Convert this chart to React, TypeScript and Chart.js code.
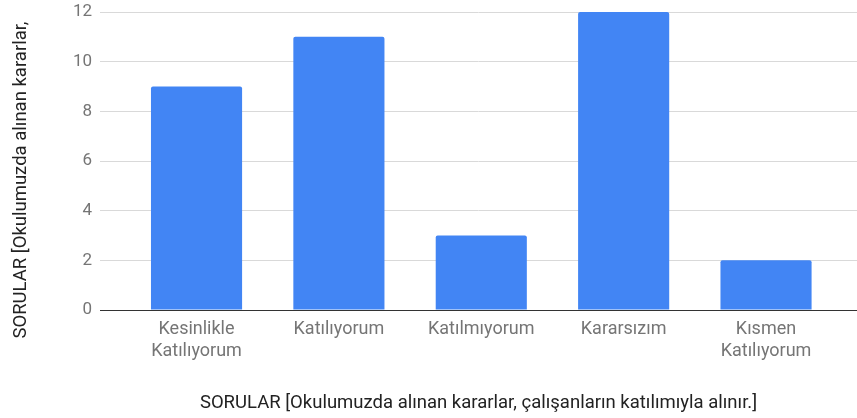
import React, { useEffect, useRef } from "react";
import { Chart, registerables } from "chart.js";

Chart.register(...registerables);

const categories: string[][] = [
  ["Kesinlikle", "Katılıyorum"],
  ["Katılıyorum"],
  ["Katılmıyorum"],
  ["Kararsızım"],
  ["Kısmen", "Katılıyorum"],
];
const values: number[] = [9, 11, 3, 12, 2];
const yTicks: number[] = [0, 2, 4, 6, 8, 10, 12];
const xTitle = "SORULAR [Okulumuzda alınan kararlar, çalışanların katılımıyla alınır.]";
const yTitle = "SORULAR [Okulumuzda alınan kararlar,";

const yTitlePlugin = {
  id: "yTitlePlugin",
  afterDraw(chart: any) {
    const ctx = chart.ctx;
    ctx.save();
    ctx.translate(21, 180);
    ctx.rotate(-Math.PI / 2);
    ctx.fillStyle = "#222222";
    ctx.font = "18.5px Roboto";
    ctx.textAlign = "center";
    ctx.textBaseline = "middle";
    ctx.fillText(yTitle, 0, 0);
    ctx.restore();
  },
};

export default function App() {
  const ref = useRef<HTMLCanvasElement | null>(null);
  useEffect(() => {
    if (!ref.current) return;
    const chart = new Chart(ref.current, {
      type: "bar",
      data: {
        datasets: [
          {
            data: values.map((v, i) => ({ x: i, y: v })),
            backgroundColor: "#4285F4",
            borderRadius: 2,
            borderSkipped: "bottom",
            categoryPercentage: 1,
            barPercentage: 0.64,
          },
        ],
      },
      plugins: [yTitlePlugin],
      options: {
        animation: false,
        responsive: false,
        maintainAspectRatio: false,
        layout: { padding: { top: 12, right: 0, left: 0, bottom: 4 } },
        plugins: { legend: { display: false }, tooltip: { enabled: false } },
        scales: {
          x: {
            type: "linear",
            offset: false,
            min: -0.678,
            max: 4.639,
            afterBuildTicks: (s: any) => {
              s.ticks = categories.map((_, i) => ({ value: i }));
            },
            grid: { display: false, drawTicks: false },
            border: { display: true, color: "#333333", width: 1 },
            ticks: {
              autoSkip: false,
              maxRotation: 0,
              minRotation: 0,
              padding: 9,
              color: "#757575",
              font: { family: "Roboto", size: 18 },
              callback: (v: any) => {
                const n = Number(v);
                if (Number.isInteger(n) && n >= 0 && n < categories.length) return categories[n];
                return "";
              },
            },
            title: {
              display: true,
              text: xTitle,
              color: "#222222",
              font: { family: "Roboto", size: 18.5 },
              padding: { top: 20, bottom: 0 },
            },
            afterFit: (s: any) => {
              s.height = 104;
              s.paddingLeft = 0;
              s.paddingRight = 0;
            },
          },
          y: {
            min: 0,
            max: 12,
            afterBuildTicks: (s: any) => {
              s.ticks = yTicks.map((v) => ({ value: v }));
            },
            grid: { color: "#d9d9d9", drawTicks: false },
            border: { display: false },
            ticks: {
              padding: 8,
              color: "#757575",
              font: { family: "Roboto", size: 17 },
            },
            title: { display: false },
            afterFit: (s: any) => {
              s.width = 100;
              s.paddingTop = 0;
              s.paddingBottom = 0;
            },
          },
        },
      },
    });
    return () => chart.destroy();
  }, []);
  return (
    <div style={{ position: "fixed", left: 0, top: 0, width: 857, height: 418, background: "#fff" }}>
      <canvas ref={ref} width={857} height={418} style={{ width: 857, height: 418 }} />
    </div>
  );
}
